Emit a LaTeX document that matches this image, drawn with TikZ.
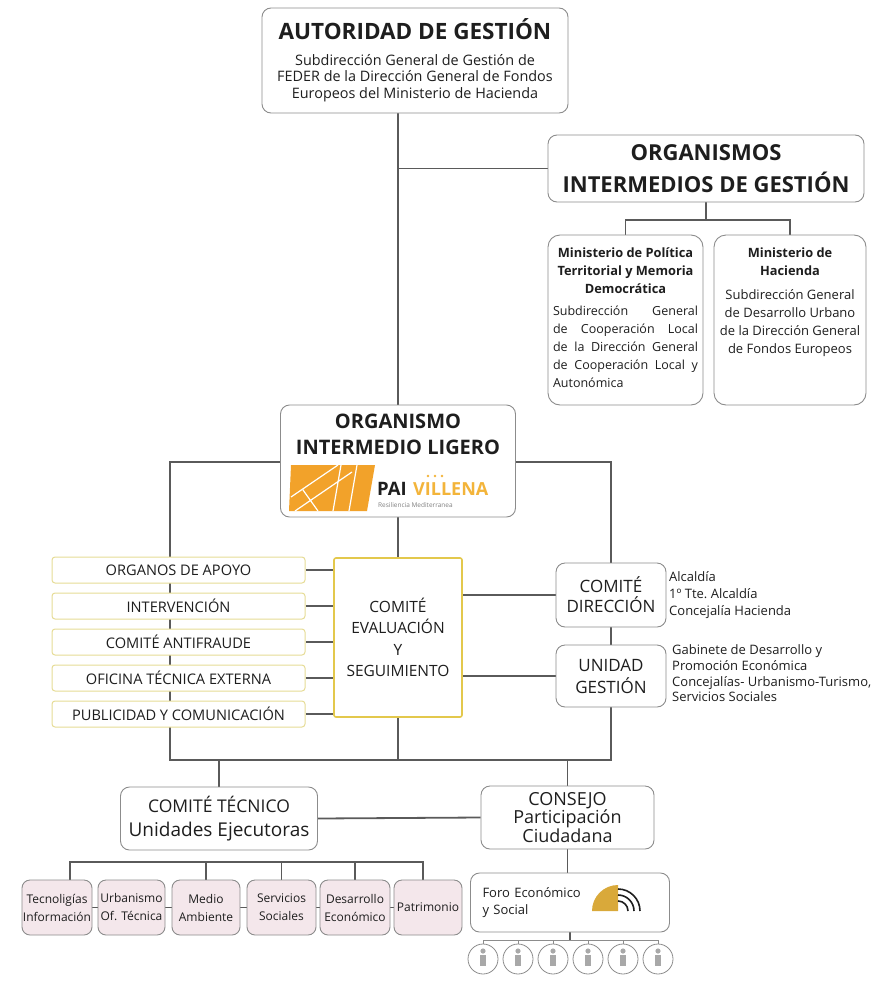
\documentclass[tikz,border=0pt]{standalone}
\usepackage{fontspec}
\setmainfont{Open Sans}
\definecolor{linegray}{HTML}{5A5A5A}
\definecolor{boxgray}{HTML}{8C8C8C}
\definecolor{textdark}{HTML}{1E1E1E}
\definecolor{paleyellow}{HTML}{E6DC96}
\definecolor{evalyellow}{HTML}{E3C84C}
\definecolor{pinkfill}{HTML}{F4E7EB}
\definecolor{paiorange}{HTML}{F2A22A}
\definecolor{paigold}{HTML}{F3B43A}
\definecolor{forogold}{HTML}{D9A93A}
\definecolor{icongray}{HTML}{A8A8A8}
\pgfdeclarelayer{bg}
\pgfsetlayers{bg,main}
\newcommand{\pxsize}[2]{\fontsize{#1}{#2}\selectfont}

\begin{document}
\begin{tikzpicture}[x = 1pt, y = -1pt,
    line/.style = {draw = linegray, line width = 1.8pt},
    thinline/.style = {draw = boxgray, line width = 0.7pt},
    box/.style = {draw = boxgray, fill = white, rounded corners = 9pt, line width = 0.9pt, align = center, text = textdark, inner sep = 0pt},
    side/.style = {draw = paleyellow, fill = white, rounded corners = 3pt, line width = 1pt, minimum width = 253pt, minimum height = 26pt, inner sep = 0pt, text = textdark, font = \pxsize{14.6}{16}},
    unit/.style = {draw = boxgray, fill = pinkfill, rounded corners = 8pt, line width = 0.9pt, minimum height = 55pt, inner sep = 0pt, align = center, text = textdark, font = \pxsize{12}{18}},
    person/.style = {draw = boxgray, circle, minimum size = 30pt, inner sep = 0pt, line width = 0.8pt,
        path picture = {\fill[icongray] ([yshift = 8pt]path picture bounding box.center) circle (2.6pt);
            \fill[icongray] ([xshift = -2.6pt, yshift = 4.5pt]path picture bounding box.center) rectangle ([xshift = 2.6pt, yshift = -7pt]path picture bounding box.center);}}]
    \useasboundingbox (0,0) rectangle (879,985);

    % top level
    \node[box, minimum width = 306pt, minimum height = 105pt, font = \pxsize{14.4}{16.5}] (AG) at (415,60.5)
        {{\bfseries\pxsize{22.5}{26}AUTORIDAD DE GESTIÓN}\\[9pt]
         Subdirección General de Gestión de\\
         FEDER de la Dirección General de Fondos\\
         Europeos del Ministerio de Hacienda};
    \node[box, minimum width = 316pt, minimum height = 67pt, font = \bfseries\pxsize{22}{32}] (OIG) at (706,168.5)
        {ORGANISMOS\\INTERMEDIOS DE GESTIÓN};
    \node[box, rounded corners = 12pt, inner sep = 5pt] (MPT) at (625.5,320)
        {\parbox[c][160pt][t]{145pt}{\vspace*{8pt}{\centering\bfseries\pxsize{12.8}{18}Ministerio de Política\\Territorial y Memoria\\Democrática\par}
         \vspace{4pt}\pxsize{12.5}{18}Subdirección General\linebreak de Cooperación Local\linebreak de la Dirección General\linebreak de Cooperación Local y\linebreak Autonómica}};
    \node[box, rounded corners = 12pt, inner sep = 5pt] (MH) at (790,320)
        {\parbox[c][160pt][t]{142pt}{\vspace*{8pt}\centering{\bfseries\pxsize{12.8}{18}Ministerio de\\Hacienda\par}
         \vspace{6pt}\pxsize{13}{18}Subdirección General\\de Desarrollo Urbano\\de la Dirección General\\de Fondos Europeos}};

    % organismo intermedio ligero
    \node[box, inner sep = 4pt] (OIL) at (398,461)
        {\parbox[c][104pt][t]{227pt}{\vspace*{5pt}\centering\bfseries\pxsize{20}{26}ORGANISMO\\INTERMEDIO LIGERO}};
    \fill[paiorange] (291,465) -- (375,465) -- (367,511) -- (289,511) -- cycle;
    \draw[white, line width = 1.2pt] (291,497) -- (338,465) (295,511) -- (352,472) (341,465) -- (333,511) (357,465) -- (349,511) (303,490) -- (318,511);
    \node[anchor = base west, inner sep = 0pt, text = textdark, font = \bfseries\pxsize{18.5}{18}] (PAI) at (377,495) {PAI};
    \node[anchor = base west, inner sep = 0pt, text = paigold, font = \bfseries\pxsize{18}{18}] (VIL) at (413,495) {VILLENA};
    \fill[paigold] (428,476) circle (1.4pt) (435,476) circle (1.4pt) (442,476) circle (1.4pt);
    \node[anchor = base west, inner sep = 0pt, text = gray, font = \pxsize{6.5}{7}] (RES) at (378,507) {Resiliencia Mediterranea};

    % comites
    \node[box, draw = evalyellow, line width = 1.6pt, rounded corners = 2pt, minimum width = 128pt, minimum height = 159pt, font = \pxsize{15.5}{21.5}] (CES) at (398,637.5)
        {COMITÉ\\EVALUACIÓN\\Y\\SEGUIMIENTO};
    \node[side] (APO) at (178.5,570) {ORGANOS DE APOYO};
    \node[side] (INT) at (178.5,606) {INTERVENCIÓN};
    \node[side] (ANT) at (178.5,642) {COMITÉ ANTIFRAUDE};
    \node[side] (OTE) at (178.5,678) {OFICINA TÉCNICA EXTERNA};
    \node[side] (PUB) at (178.5,714) {PUBLICIDAD Y COMUNICACIÓN};
    \node[box, minimum width = 110pt, minimum height = 64pt, font = \pxsize{17}{20}] (CD) at (611,595) {COMITÉ\\DIRECCIÓN};
    \node[box, minimum width = 110pt, minimum height = 62pt, font = \pxsize{17}{22}] (UG) at (611,676) {UNIDAD\\GESTIÓN};
    \node[anchor = west, align = left, inner sep = 0pt, text = textdark, font = \pxsize{13}{17}] (CDM) at (669,595)
        {Alcaldía\\1º Tte.\ Alcaldía\\Concejalía Hacienda};
    \node[anchor = west, align = left, inner sep = 0pt, text = textdark, font = \pxsize{13}{15.7}] (UGM) at (672,673.5)
        {Gabinete de Desarrollo y\\Promoción Económica\\Concejalías- Urbanismo-Turismo,\\Servicios Sociales};

    % bottom
    \node[box, minimum width = 197pt, minimum height = 63pt, font = \pxsize{19}{24}] (CT) at (219,818.5) {{\pxsize{17.5}{24}COMITÉ TÉCNICO}\\Unidades Ejecutoras};
    \node[box, minimum width = 173pt, minimum height = 63pt, font = \pxsize{18}{16.5}] (CPC) at (567.5,817.5) {CONSEJO\\Participación\\Ciudadana};
    \node[unit, minimum width = 70pt] (EU1) at (57,907.5) {Tecnoligías\\Información};
    \node[unit, minimum width = 67pt] (EU2) at (131.5,907.5) {Urbanismo\\Of. Técnica};
    \node[unit, minimum width = 68pt] (EU3) at (206,907.5) {Medio\\Ambiente};
    \node[unit, minimum width = 69pt] (EU4) at (281.5,907.5) {Servicios\\Sociales};
    \node[unit, minimum width = 70pt] (EU5) at (355,907.5) {Desarrollo\\Económico};
    \node[unit, minimum width = 68pt] (EU6) at (428,907.5) {Patrimonio};
    \node[box, minimum width = 199pt, minimum height = 59pt, text width = 175pt, align = left, inner xsep = 12pt, font = \pxsize{13}{17}] (FES) at (570,902.5)
        {Foro Económico\\y Social};
    \fill[forogold] (618,911) -- (592,911) arc (180:270:26) -- cycle;
    \draw[textdark, line width = 1.6pt] (618,901) arc (270:360:10) (618,895) arc (270:360:16) (618,889) arc (270:360:22);
    \node[person] (P1) at (483,959) {};
    \node[person] (P2) at (518,959) {};
    \node[person] (P3) at (553,959) {};
    \node[person] (P4) at (588,959) {};
    \node[person] (P5) at (623,959) {};
    \node[person] (P6) at (658,959) {};

    % connectors
    \coordinate (J1) at (706,220);
    \coordinate (L1) at (170,462);
    \coordinate (L2) at (170,760);
    \coordinate (K1) at (70,862);
    \coordinate (K2) at (423,862);
    \coordinate (PC) at (570,940);
    \begin{pgfonlayer}{bg}
    \draw[line] (AG.south -| OIL.north) -- (OIL.north);
    \draw[line] (OIL.north |- OIG.west) -- (OIG.west);
    \draw[line] (OIG.south) -- (J1);
    \draw[line] (MPT.north) |- (J1) -| (MH.north);
    \draw[line] (OIL.west |- L1) -- (L1) -- (L2) -| (UG.south);
    \draw[line] (OIL.east |- L1) -| (CD.north);
    \draw[line] (CD.south) -- (UG.north);
    \draw[line] (OIL.south) -- (CES.north);
    \draw[line] (CES.south) -- (CES.south |- L2);
    \draw[line] (CES.east |- CD.west) -- (CD.west);
    \draw[line] (CES.east |- UG.west) -- (UG.west);
    \draw[line] (APO.east) -- (CES.west |- APO.east);
    \draw[line] (INT.east) -- (CES.west |- INT.east);
    \draw[line] (ANT.east) -- (CES.west |- ANT.east);
    \draw[line] (OTE.east) -- (CES.west |- OTE.east);
    \draw[line] (PUB.east) -- (CES.west |- PUB.east);
    \draw[line] (CT.north |- L2) -- (CT.north);
    \draw[line] (CPC.north |- L2) -- (CPC.north);
    \draw[line] (CT.east) -- (CPC.west);
    \draw[line] (CPC.south) -- (CPC.south |- FES.north);
    \draw[line] (EU1.north -| K1) -- (K1) -- (K2) -- (EU6.north -| K2);
    \draw[line] (EU3.north) -- (EU3.north |- K1);
    \draw[line] (EU4.north) -- (EU4.north |- K1);
    \draw[line] (EU5.north) -- (EU5.north |- K1);
    \draw[line] (EU1.east) -- (EU2.west);
    \draw[line] (EU2.east) -- (EU3.west);
    \draw[line] (EU3.east) -- (EU4.west);
    \draw[line] (EU4.east) -- (EU5.west);
    \draw[line] (EU5.east) -- (EU6.west);
    \draw[line] (FES.south) -- (FES.south |- PC);
    \draw[thinline] (P1.north |- PC) -- (P6.north |- PC);
    \draw[thinline] (P1.north) -- (P1.north |- PC);
    \draw[thinline] (P2.north) -- (P2.north |- PC);
    \draw[thinline] (P3.north) -- (P3.north |- PC);
    \draw[thinline] (P4.north) -- (P4.north |- PC);
    \draw[thinline] (P5.north) -- (P5.north |- PC);
    \draw[thinline] (P6.north) -- (P6.north |- PC);
    \end{pgfonlayer}
\end{tikzpicture}
\end{document}
